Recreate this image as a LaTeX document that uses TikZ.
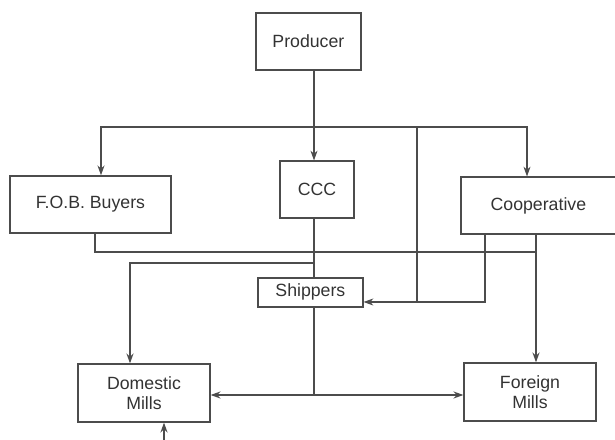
\documentclass[tikz,border=0pt]{standalone}
\usepackage{fontspec}
\setmainfont{Liberation Sans}
\usepackage{tikz}
\usetikzlibrary{arrows.meta}

\begin{document}
\begin{tikzpicture}[>={Stealth[length=7pt,width=5pt]}, line width=0.9pt, draw=black!70,
	firm/.style={rectangle,draw=black!70,minimum height=1.425cm,inner sep=0pt,text=black!80},
	mill/.style={rectangle,draw=black!70,minimum width=3.3cm,minimum height=1.45cm,inner sep=0pt,align=center,text=black!80},
	every node/.append style={font=\fontsize{12.6}{14.2}\selectfont}]
	\useasboundingbox (0,0) rectangle (15.375,11);
	\node[firm, minimum width=2.625cm] (P) at (7.71,9.96) {Producer};
	\node[firm, minimum width=4.025cm] (F) at (2.26,5.89) {F.O.B. Buyers};
	\node[firm, minimum width=1.85cm] (C) at (7.925,6.26) {CCC};
	\node[firm, minimum width=3.875cm] (Co) at (13.46,5.86) {Cooperative};
	\node[firm, minimum width=2.625cm, minimum height=0.725cm] (Sh) at (7.76,3.69) {Shippers};
	\node[mill] (DM) at (3.6,1.175) {Domestic\\Mills};
	\node[mill] (FM) at (13.25,1.2) {Foreign\\Mills};
	\coordinate (ax) at (7.85,0);
	\coordinate (barL) at (2.525,7.825);
	\coordinate (barR) at (13.175,7.825);
	\coordinate (barM) at (10.425,7.825);
	\coordinate (c1) at (12.125,3.45);
	\coordinate (c2) at (13.4,4.7);
	\coordinate (f2) at (2.375,4.7);
	\coordinate (d1) at (3.25,4.425);
	\coordinate (j) at (7.85,1.125);
	\coordinate (b1) at (4.1,-0.1);
	\draw[->] (P.south -| ax) -- (C.north -| ax);
	\draw[<->] (barL |- F.north) -- (barL) -- (barR) -- (barR |- Co.north);
	\draw (barM) -- (barM |- c1);
	\draw[->] (c1 |- Co.south) -- (c1) -- (c1 -| Sh.east);
	\draw (f2 |- F.south) -- (f2) -- (c2);
	\draw[->] (c2 |- Co.south) -- (c2 |- FM.north);
	\draw (C.south -| ax) -- (Sh.north -| ax);
	\draw[->] (d1 -| ax) -- (d1) -- (d1 |- DM.north);
	\draw (Sh.south -| ax) -- (j);
	\draw[<->] (DM.east |- j) -- (FM.west |- j);
	\draw[->] (b1) -- (b1 |- DM.south);
\end{tikzpicture}
\end{document}
